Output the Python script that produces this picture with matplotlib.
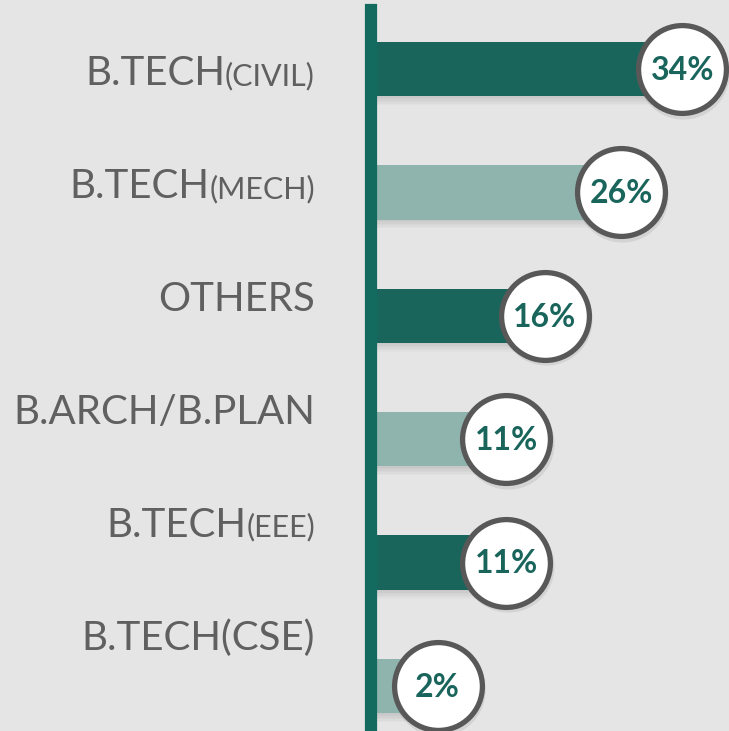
import matplotlib.pyplot as plt
from matplotlib.transforms import blended_transform_factory

# data
categories = ["B.TECH(CIVIL)", "B.TECH(MECH)", "OTHERS",
              "B.ARCH/B.PLAN", "B.TECH(EEE)", "B.TECH(CSE)"]
shares = [34, 26, 16, 11, 11, 2]
small_caps_suffix = ["B.TECH(CIVIL)", "B.TECH(MECH)", "B.TECH(EEE)"]

BG = "#e5e5e5"
DARK = "#19655c"
LIGHT = "#8fb3ad"
AXIS = "#136b5f"
TEXT_GRAY = "#606060"
RING = "#585858"

W, H = 729, 731
fig = plt.figure(figsize=(W / 100, H / 100), dpi=100, facecolor=BG)
ax = fig.add_axes([371 / W, 0, (W - 371) / W, (H - 10) / H])
ax.set_facecolor(BG)

x_left, x_right = -6.7, 40.1
ax.set_xlim(x_left, x_right)
ax.set_ylim(5.365, -0.478)

ys = list(range(len(categories)))
colors = [DARK if i % 2 == 0 else LIGHT for i in ys]

# soft shadow under the bars
for k in range(1, 7):
    ax.barh([y + 0.012 * k for y in ys], [v - x_left for v in shares],
            left=x_left, height=0.44, color="black", alpha=0.018, zorder=1)

ax.barh(ys, [v - x_left for v in shares], left=x_left, height=0.44,
        color=colors, zorder=2)

# ring shadow + rings with values
ax.scatter([v + 0.15 for v in shares], [y + 0.03 for y in ys], s=4400,
           color="black", alpha=0.08, linewidths=0, zorder=3)
ax.scatter(shares, ys, s=4000, facecolor="white", edgecolor=RING,
           linewidths=3.8, zorder=4)
for v, y in zip(shares, ys):
    ax.text(v, y + 0.01, f"{v}%", ha="center", va="center", fontsize=23,
            fontweight="bold", family="Lato", color=DARK, zorder=5)

for side in ["top", "right", "bottom"]:
    ax.spines[side].set_visible(False)
ax.spines["left"].set_color(AXIS)
ax.spines["left"].set_linewidth(8.8)
ax.spines["left"].set_zorder(6)
ax.set_xticks([])
ax.set_yticks([])

# category labels, right aligned left of the axis line
trans = blended_transform_factory(fig.transFigure, ax.transData)
renderer = fig.canvas.get_renderer()
x_text = 315 / W
font = "Lato"
for i, label in enumerate(categories):
    y_base = i * 0.915 + 0.016 + 0.115
    if label in small_caps_suffix:
        main, suffix = label.split("(")
        suffix = "(" + suffix
        t = fig.text(x_text, y_base, suffix, transform=trans, ha="right",
                     va="baseline", fontsize=22, family=font,
                     color=TEXT_GRAY)
        bb = t.get_window_extent(renderer=renderer)
        x_main = bb.x0 / W
        fig.text(x_main, y_base, main, transform=trans, ha="right",
                 va="baseline", fontsize=29, family=font,
                 color=TEXT_GRAY)
    else:
        fig.text(x_text, y_base, label, transform=trans, ha="right",
                 va="baseline", fontsize=29, family=font,
                 color=TEXT_GRAY)

fig.savefig("out.png", dpi=100, facecolor=BG)
